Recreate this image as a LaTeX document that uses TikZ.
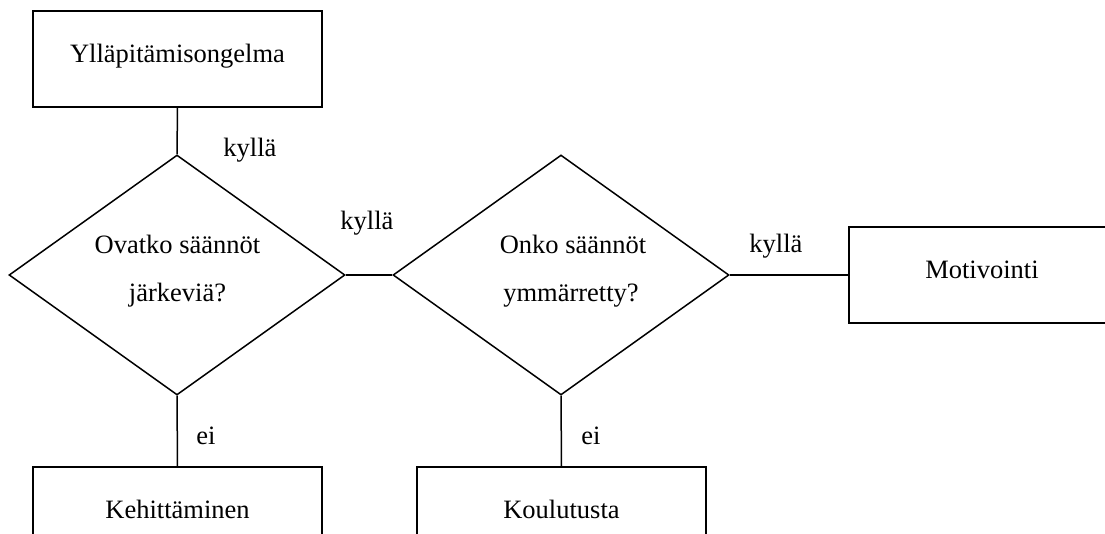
\documentclass[tikz,border=0pt]{standalone}
\usepackage{fontspec}
\setmainfont{Liberation Serif}
\usetikzlibrary{shapes.geometric}
\begin{document}
\begin{tikzpicture}[x=0.5pt,y=-0.5pt,
  box/.style={draw, line width=0.75pt, minimum width=144.5pt, minimum height=48pt, inner sep=0pt,
    text height=7pt, text depth=3pt, font=\fontsize{13.25}{16}\selectfont},
  dia/.style={draw, shape=diamond, line width=0.75pt, minimum width=168pt, minimum height=120pt, inner sep=0pt},
  txt/.style={anchor=base, inner sep=0pt, font=\fontsize{13.25}{16}\selectfont},
  lbl/.style={anchor=base west, inner sep=0pt, font=\fontsize{13.25}{16}\selectfont},
  conn/.style={line width=0.75pt}]
\clip (0,0) rectangle (1105,534);
% boxes
\node[box] (top) at (177.5,59) {Ylläpitämisongelma};
\node[box, minimum width=133pt] (mot) at (982,275) {Motivointi};
\node[box] (keh) at (177.5,515) {Kehittäminen};
\node[box] (kou) at (561.5,515) {Koulutusta};
% diamonds
\node[dia] (d1) at (177,275) {};
\node[dia] (d2) at (561,275) {};
\node[txt] (q1a) at (177.5,254) {Ovatko säännöt};
\node[txt] (q1b) at (177.5,302) {järkeviä?};
\node[txt] (q2a) at (573,254) {Onko säännöt};
\node[txt] (q2b) at (571,302) {ymmärretty?};
% connectors
\draw[conn] (top.south) -- (d1.north);
\draw[conn] (d1.east) -- (d2.west);
\draw[conn] (d2.east) -- (mot.west);
\draw[conn] (d1.south) -- (keh.north);
\draw[conn] (d2.south) -- (kou.north);
% labels
\node[lbl] (l1) at (223,157) {kyllä};
\node[lbl] (l2) at (340,230) {kyllä};
\node[lbl] (l3) at (749,253) {kyllä};
\node[lbl] (l4) at (196,445) {ei};
\node[lbl] (l5) at (581,445) {ei};
\end{tikzpicture}
\end{document}
